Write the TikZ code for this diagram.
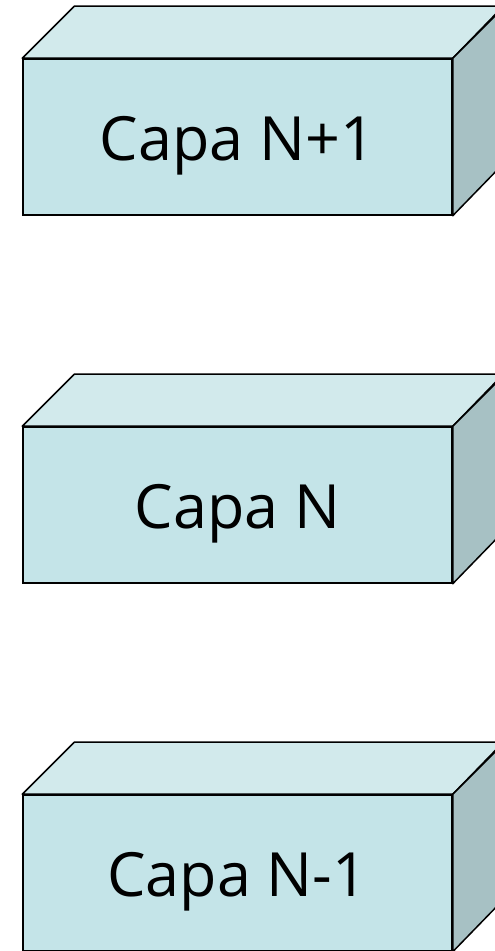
\documentclass[tikz,border=0pt]{standalone}
\usepackage{fontspec}
\setmainfont{Open Sans}
\definecolor{frontc}{RGB}{196,228,232}
\definecolor{topc}{RGB}{210,234,236}
\definecolor{sidec}{RGB}{167,193,196}
\begin{document}
\begin{tikzpicture}[x=1pt,y=1pt,
  front/.style={draw=black,line width=1.5pt,fill=frontc,minimum width=429pt,minimum height=156pt,inner sep=0pt},
  lbl/.style={font=\fontsize{61}{66}\selectfont,inner sep=0pt},
  topface/.style={draw=black,line width=1.5pt,fill=topc,line join=round},
  sideface/.style={draw=black,line width=1.5pt,fill=sidec,line join=round}]
\useasboundingbox (0,0) rectangle (495,951);
\clip (0,0) rectangle (495,951);
\foreach \n/\yc/\t in {a/814/Capa N+1, b/446/Capa N, c/78/Capa N-1}{
  \node[front] (\n) at (237.5,\yc) {};
  \node[lbl] (\n-t) at ([yshift=-9pt]\n.center) {\t};
  \draw[topface] (\n.north west) -- ++(52,52) -- ++(429,0) -- (\n.north east) -- cycle;
  \draw[sideface] (\n.north east) -- ++(52,52) -- ++(0,-156) -- (\n.south east) -- cycle;
}
\end{tikzpicture}
\end{document}
